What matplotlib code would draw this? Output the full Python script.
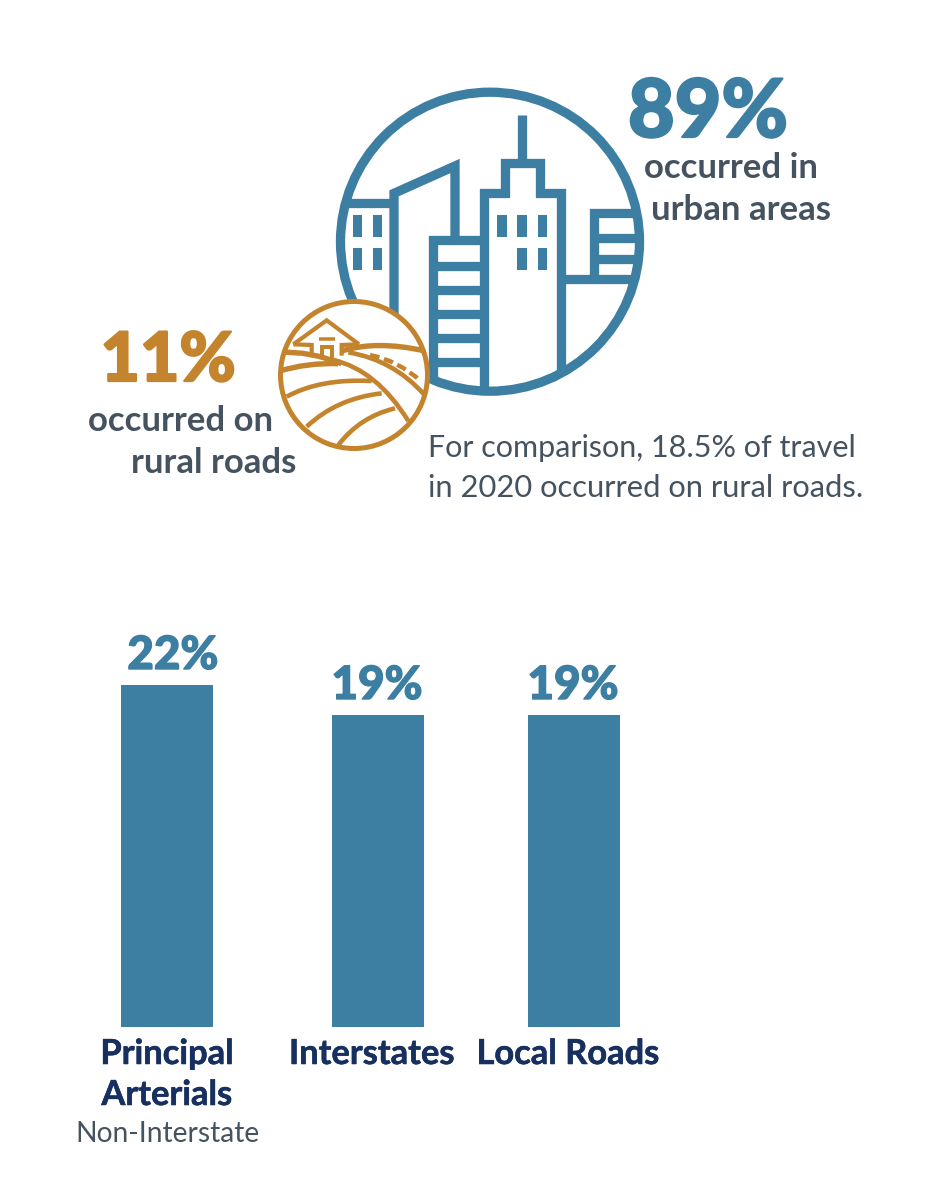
#!/usr/bin/env python3
import matplotlib
matplotlib.use('Agg')
import matplotlib.pyplot as plt
import matplotlib.patheffects as pe
from matplotlib.patches import Circle, Rectangle, PathPatch
from matplotlib.path import Path

BLUE = '#3d7ea3'
GOLD = '#c4842d'
GREY = '#45525f'
NAVY = '#17305f'
PX = 0.72  # one pixel in points at dpi 100

# bar data, top of the blue bar as drawn and the printed label
categories = ['Interstates', 'Local Roads']
bar_x = [167, 378, 574]
bar_heights = [22, 20.07, 20.07]
bar_labels = ['22%', '19%', '19%']
label_x = [173, 377, 573]

plt.rcParams['font.family'] = ['Lato', 'DejaVu Sans']

fig = plt.figure(figsize=(9.39, 12.0), dpi=100)

# pixel overlay for the icons and loose text
ax = fig.add_axes([0, 0, 1, 1])
ax.set_xlim(0, 939)
ax.set_ylim(1200, 0)
ax.axis('off')

# bars
ax_bar = fig.add_axes([0, (1200 - 1027) / 1200, 1, 342 / 1200])
ax_bar.set_xlim(0, 939)
ax_bar.set_ylim(0, 22)
ax_bar.axis('off')
ax_bar.bar(bar_x[0], bar_heights[0], width=92, color=BLUE)
ax_bar.bar(bar_x[1:], bar_heights[1:], width=92, color=BLUE)


def heavy(width, color):
    # Lato stops short of the reference weight, so thicken the glyphs
    return [pe.withStroke(linewidth=width, foreground=color)]


def city(pts, clip, lw=9.3):
    xs = [330 + p[0] / 3 for p in pts]
    ys = [80 + p[1] / 3 for p in pts]
    line, = ax.plot(xs, ys, color=BLUE, lw=lw * PX, solid_capstyle='butt',
                    solid_joinstyle='miter', zorder=2)
    line.set_clip_path(clip)


# city icon
ring = Circle((490, 241.7), 149.5, fc='white', ec=BLUE, lw=9.3 * PX, zorder=1)
ax.add_patch(ring)
clip = Circle((490, 241.7), 150, transform=ax.transData)

city([(40, 370), (192, 370)], clip)
city([(192, 720), (192, 340), (375, 258), (375, 480)], clip)
city([(310, 930), (310, 480), (462, 480)], clip)
for y in [557, 630, 703, 775, 847]:
    city([(310, y), (462, y)], clip)
city([(462, 940), (462, 340), (525, 340), (525, 250), (630, 250), (630, 340),
      (692, 340), (692, 880)], clip)
city([(577, 105), (577, 250)], clip)
city([(692, 597), (925, 597)], clip)
city([(791, 597), (791, 398), (925, 398)], clip)
city([(791, 473), (925, 473)], clip)
city([(791, 537), (925, 537)], clip)

windows = [(68, 405), (128, 405), (68, 503), (128, 503),
           (501, 405), (562, 405), (623, 405), (562, 503), (623, 503)]
for wx, wy in windows:
    ax.add_patch(Rectangle((330 + wx / 3, 80 + wy / 3), 29 / 3, 66 / 3,
                           fc=BLUE, ec='none', zorder=2))

# rural icon
farm = Circle((354, 375), 73.5, fc='white', ec=GOLD, lw=5 * PX, zorder=5)
ax.add_patch(farm)
farm_clip = Circle((354, 375), 74, transform=ax.transData)


def fx(p):
    return (270 + p[0] / 3, 295 + p[1] / 3)


def farm_line(pts, lw=4.6, **kw):
    xy = [fx(p) for p in pts]
    line, = ax.plot([p[0] for p in xy], [p[1] for p in xy], color=GOLD, lw=lw * PX,
                    solid_capstyle='butt', solid_joinstyle='miter', zorder=6, **kw)
    line.set_clip_path(farm_clip)


def farm_curve(a, c, b, lw=4.6, **kw):
    path = Path([fx(a), fx(c), fx(b)], [Path.MOVETO, Path.CURVE3, Path.CURVE3])
    patch = PathPatch(path, fc='none', ec=GOLD, lw=lw * PX, capstyle='butt', zorder=6, **kw)
    ax.add_patch(patch)
    patch.set_clip_path(farm_clip)


farm_line([(70, 148), (170, 76), (267, 148)], lw=4.2)
farm_line([(70, 148), (125, 150), (125, 182)], lw=4.2)
farm_line([(215, 182), (215, 150), (267, 148)], lw=4.2)
farm_line([(148, 132), (195, 132)], lw=3.5)
farm_line([(155, 188), (155, 157), (186, 157), (186, 188)], lw=4)

farm_curve((30, 172), (120, 168), (215, 206), lw=5.4)
farm_curve((30, 228), (110, 203), (205, 206), lw=5.4)
farm_curve((215, 168), (320, 135), (465, 168), lw=5.4)
farm_curve((190, 195), (320, 225), (415, 378))
farm_curve((235, 172), (370, 195), (462, 298))
farm_curve((300, 180), (385, 197), (452, 258), lw=4.4, linestyle=(0, (2.2, 1.1)))
farm_curve((50, 305), (150, 250), (305, 258))
farm_curve((110, 395), (200, 310), (335, 295))
farm_curve((205, 450), (270, 365), (375, 340))

# headline numbers
ax.text(708, 137, '89%', color=BLUE, fontsize=58, fontweight='black', ha='center', va='baseline',
        path_effects=heavy(1.6, BLUE))
ax.text(168, 381, '11%', color=GOLD, fontsize=49, fontweight='black', ha='center', va='baseline',
        path_effects=heavy(1.6, GOLD))

for x, y, s, ha in [(731, 178, 'occurred in', 'center'), (741, 220, 'urban areas', 'center'),
                    (181, 431, 'occurred on', 'center'), (296, 473, 'rural roads', 'right')]:
    ax.text(x, y, s, color=GREY, fontsize=25, fontweight='bold', ha=ha, va='baseline')

ax.text(428, 457, 'For comparison, 18.5% of travel', color=GREY, fontsize=22, va='baseline')
ax.text(428, 497, 'in 2020 occurred on rural roads.', color=GREY, fontsize=22.2, va='baseline')

# bar value labels
for lx, h, lab in zip(label_x, bar_heights, bar_labels):
    ax_bar.annotate(lab, (lx, h), xytext=(0, 16 * PX), textcoords='offset points', color=BLUE,
                    fontsize=33, fontweight='black', ha='center', va='baseline',
                    path_effects=heavy(1.0, BLUE))

# category labels
for x, y, s in [(167, 1064, 'Principal'), (167, 1105, 'Arterials'),
                (372, 1064, categories[0]), (568, 1064, categories[1])]:
    ax.text(x, y, s, color=NAVY, fontsize=24.8, fontweight='bold', ha='center', va='baseline',
            path_effects=heavy(0.4, NAVY))
ax.text(167, 1142, 'Non-Interstate', color=GREY, fontsize=20.3, ha='center', va='baseline')

fig.savefig('out.png', dpi=100)
